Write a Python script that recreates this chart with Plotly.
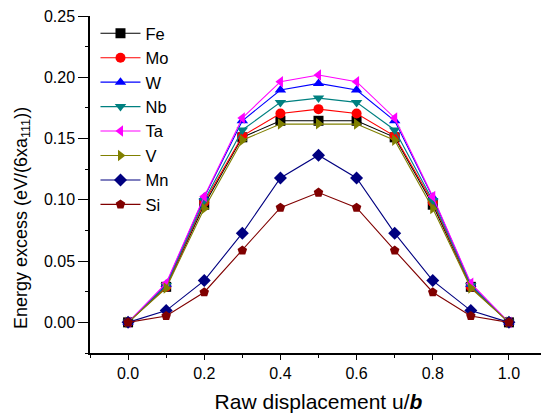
import plotly.graph_objects as go

# Raw displacement along the <111> direction (in units of b)
u = [0.0, 0.1, 0.2, 0.3, 0.4, 0.5, 0.6, 0.7, 0.8, 0.9, 1.0]

# Energy excess per solute, eV/(6 x a111)
fe = [0.0, 0.029, 0.096, 0.151, 0.1645, 0.1645, 0.1645, 0.151, 0.096, 0.029, 0.0]
mo = [0.0, 0.029, 0.098, 0.152, 0.1705, 0.174, 0.1705, 0.152, 0.098, 0.029, 0.0]
w = [0.0, 0.031, 0.102, 0.1645, 0.1896, 0.195, 0.1896, 0.1645, 0.102, 0.031, 0.0]
nb = [0.0, 0.030, 0.0995, 0.157, 0.1795, 0.183, 0.1795, 0.157, 0.0995, 0.030, 0.0]
ta = [0.0, 0.032, 0.1027, 0.1668, 0.1964, 0.2019, 0.1964, 0.1668, 0.1027, 0.032, 0.0]
v = [0.0, 0.028, 0.093, 0.1487, 0.1618, 0.162, 0.1618, 0.1487, 0.093, 0.028, 0.0]
mn = [0.0, 0.0096, 0.0341, 0.0728, 0.1178, 0.1364, 0.1178, 0.0728, 0.0341, 0.0096, 0.0]
si = [0.0, 0.0052, 0.0246, 0.0587, 0.0936, 0.1059, 0.0936, 0.0587, 0.0246, 0.0052, 0.0]

names = ["Fe", "Mo", "W", "Nb", "Ta", "V", "Mn", "Si"]
colors = ["#000000", "#FF0000", "#0000FF", "#008080", "#FF00FF", "#808000", "#000080", "#800000"]
symbols = ["square", "circle", "triangle-up", "triangle-down", "triangle-left",
           "triangle-right", "diamond", "pentagon"]
series = [fe, mo, w, nb, ta, v, mn, si]

x_ticks = [0.0, 0.2, 0.4, 0.6, 0.8, 1.0]
x_ticklabels = ["0.0", "0.2", "0.4", "0.6", "0.8", "1.0"]
y_ticks = [0.0, 0.05, 0.10, 0.15, 0.20, 0.25]
y_ticklabels = ["0.00", "0.05", "0.10", "0.15", "0.20", "0.25"]

FONT = "Liberation Sans, Arial, sans-serif"

fig = go.Figure()
for name, col, sym, ys in zip(names, colors, symbols, series):
    fig.add_trace(go.Scatter(
        x=u, y=ys, name=name, mode="lines+markers",
        line=dict(color=col, width=1.1),
        marker=dict(symbol=sym, size=10, color=col, line=dict(width=0)),
    ))

axis_common = dict(showgrid=False, zeroline=False, showline=True,
                   linecolor="black", linewidth=1.5, tickcolor="black", tickwidth=1.2)

fig.update_layout(
    width=548, height=414,
    margin=dict(l=90, r=1, t=16, b=61),
    plot_bgcolor="white", paper_bgcolor="white",
    font=dict(family=FONT, color="black", size=16),
    showlegend=True,
    legend=dict(x=0.012, y=1.0, xanchor="left", yanchor="top",
                bgcolor="rgba(0,0,0,0)", font=dict(size=16.5),
                tracegroupgap=0, itemwidth=40),
    xaxis=dict(range=[-0.1, 1.1], tickvals=x_ticks, ticktext=x_ticklabels,
               ticks="outside", ticklen=5,
               minor=dict(dtick=0.1, tick0=0, ticks="outside", ticklen=3, tickcolor="black"),
               title=dict(text="Raw displacement u/<b><i>b</i></b>", font=dict(size=21), standoff=13),
               tickfont=dict(size=16), **axis_common),
    yaxis=dict(range=[-0.025, 0.25], tickvals=y_ticks, ticktext=y_ticklabels,
               ticks="outside", ticklen=10,
               minor=dict(dtick=0.025, tick0=0, ticks="outside", ticklen=3, tickcolor="black"),
               tickfont=dict(size=16), **axis_common),
    xaxis2=dict(overlaying="x", matches="x", side="top", anchor="y",
                tickvals=x_ticks, showticklabels=False, ticks="inside", ticklen=7,
                minor=dict(dtick=0.1, tick0=0, ticks="inside", ticklen=4, tickcolor="black"),
                **axis_common),
    yaxis2=dict(overlaying="y", matches="y", side="right", anchor="x",
                tickvals=y_ticks, showticklabels=False, ticks="inside", ticklen=7,
                minor=dict(dtick=0.025, tick0=0, ticks="inside", ticklen=4, tickcolor="black"),
                **axis_common),
)

# Y-axis title, placed as a rotated annotation left of the tick labels
fig.add_annotation(
    text="Energy excess (eV/(6xa<sub>111</sub>))",
    xref="paper", yref="paper", x=-0.149, y=0.40,
    xanchor="center", yanchor="middle", textangle=-90,
    showarrow=False, font=dict(size=18),
)

fig.write_html(
    "out.html",
    post_script="document.documentElement.style.overflow='hidden';document.body.style.overflow='hidden';",
)
